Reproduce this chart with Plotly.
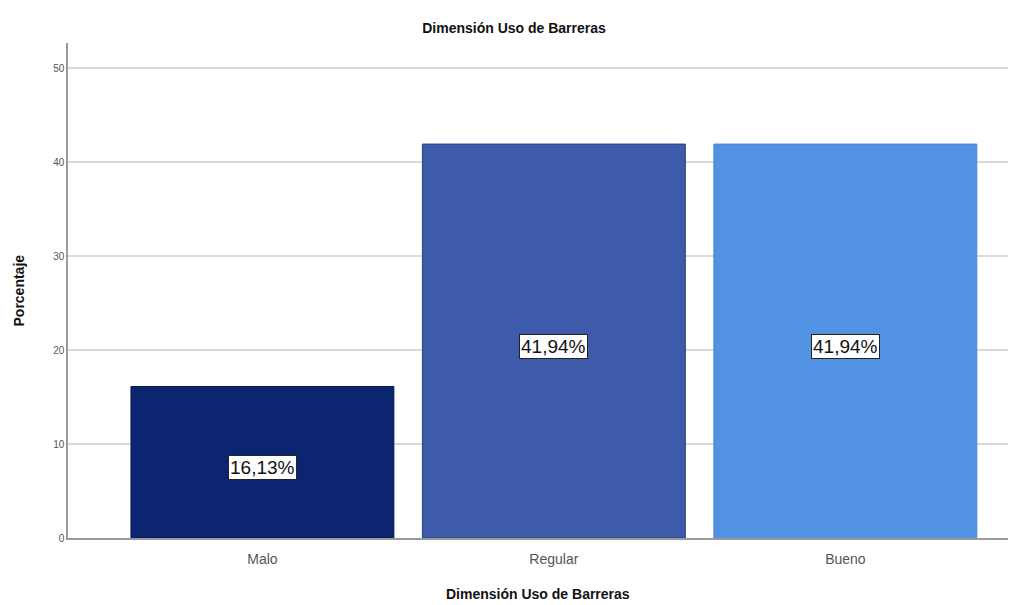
import plotly.graph_objects as go

categorias = ["Malo", "Regular", "Bueno"]
porcentajes = [16.13, 41.94, 41.94]
colores = ["#0b2570", "#3d5aab", "#5192e2"]
bordes = ["#081a50", "#2a3f80", "#4a86d0"]
etiquetas = ["16,13%", "41,94%", "41,94%"]
ticks_y = [0, 10, 20, 30, 40, 50]

W, H = 1028, 605

fig = go.Figure()
fig.add_trace(go.Bar(
    x=list(range(len(categorias))),
    y=porcentajes,
    width=0.902,
    marker=dict(color=colores, line=dict(color=bordes, width=1)),
    showlegend=False,
    hoverinfo="skip",
))

for i, (v, t) in enumerate(zip(porcentajes, etiquetas)):
    fig.add_annotation(
        x=i, y=v / 2, text=t, showarrow=False, yshift=-5,
        font=dict(family="Arial, Liberation Sans", size=19, color="#111111"),
        bgcolor="white", bordercolor="#222222", borderwidth=1, borderpad=1,
    )

# axis titles placed in paper space
fig.add_annotation(
    xref="paper", yref="paper", x=0.5, y=-(594 - 538) / (H - 43 - 67),
    xanchor="center", yanchor="middle", showarrow=False,
    text="<b>Dimensión Uso de Barreras</b>",
    font=dict(family="Arial, Liberation Sans", size=14, color="#111111"),
)
fig.add_annotation(
    xref="paper", yref="paper", x=-(68 - 18) / (W - 68 - 20), y=0.5,
    xanchor="center", yanchor="middle", showarrow=False, textangle=-90,
    text="<b>Porcentaje</b>",
    font=dict(family="Arial, Liberation Sans", size=14, color="#111111"),
)

fig.update_layout(
    width=W, height=H,
    margin=dict(l=68, r=20, t=43, b=67),
    paper_bgcolor="white", plot_bgcolor="white",
    title=dict(text="<b>Dimensión Uso de Barreras</b>", x=0.5, xanchor="center",
               y=1 - 28 / H, yanchor="middle",
               font=dict(family="Arial, Liberation Sans", size=14, color="#111111")),
    font=dict(family="Arial, Liberation Sans"),
)
fig.update_xaxes(
    range=[-0.667, 2.558], automargin=False,
    tickmode="array", tickvals=list(range(len(categorias))), ticktext=categorias,
    tickfont=dict(size=14, color="#555555"), ticklabelstandoff=7,
    showline=True, linecolor="#9a9a9a", linewidth=1.5,
    showgrid=False, zeroline=False, ticks="",
)
fig.update_yaxes(
    range=[0, 52.7], automargin=False,
    tickmode="array", tickvals=ticks_y,
    tickfont=dict(size=10, color="#555555"),
    showline=True, linecolor="#9a9a9a", linewidth=1.5,
    showgrid=True, gridcolor="#d9d9d9", gridwidth=1.5, zeroline=False,
    ticks="", ticklen=0,
)

fig.write_html("out.html")
